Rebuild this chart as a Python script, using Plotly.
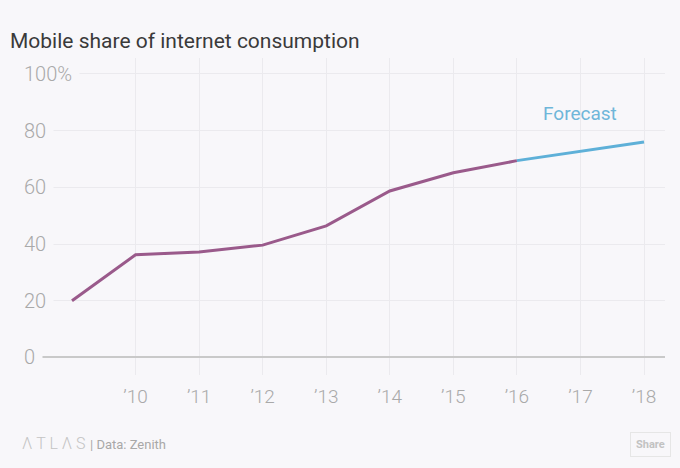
import plotly.graph_objects as go

# ---- data ----
years_actual = [2009, 2010, 2011, 2012, 2013, 2014, 2015, 2016]
share_actual = [20.0, 36.2, 37.2, 39.6, 46.4, 58.7, 65.1, 69.4]
years_forecast = [2016, 2017, 2018]
share_forecast = [69.4, 72.7, 76.0]
xtick_vals = [2010, 2011, 2012, 2013, 2014, 2015, 2016, 2017, 2018]
xtick_text = ["\u201910", "\u201911", "\u201912", "\u201913", "\u201914",
              "\u201915", "\u201916", "\u201917", "\u201918"]
ytick_vals = [0, 20, 40, 60, 80, 100]
ytick_text = ["0", "20", "40", "60", "80", "100%"]

BG = "#f8f7fa"
GRAY = "#a9a9a9"

W, H = 680, 468
L, R, T, B = 24, 15, 58, 93
pw, ph = W - L - R, H - T - B


def px_x(px):
    return (px - L) / pw


def px_y(py):
    return 1 - (py - T) / ph


fig = go.Figure()
fig.add_trace(go.Scatter(x=years_actual, y=share_actual, mode="lines",
                         line=dict(color="#9a5a8b", width=3), hoverinfo="skip"))
fig.add_trace(go.Scatter(x=years_forecast, y=share_forecast, mode="lines",
                         line=dict(color="#5eb0d8", width=3), hoverinfo="skip"))

for v, t in zip(ytick_vals, ytick_text):
    fig.add_annotation(x=0, xref="paper", y=v, yref="y", text=t, showarrow=False,
                       xanchor="left", yanchor="middle", xshift=-8,
                       bgcolor=BG, borderpad=7,
                       font=dict(family="Roboto", size=20, color=GRAY, weight=300))

fig.add_annotation(x=2017, y=86, xref="x", yref="y", text="Forecast", showarrow=False,
                   font=dict(family="Roboto", size=19, color="#6fb6d9"),
                   xanchor="center", yanchor="middle")

# footer
fig.add_annotation(x=px_x(20), y=px_y(443), xref="paper", yref="paper",
                   text="\u039b T L \u039b S", showarrow=False, xanchor="left",
                   yanchor="middle",
                   font=dict(family="Roboto", size=16, color="#c4c4c4", weight=300))
fig.add_annotation(x=px_x(88), y=px_y(444), xref="paper", yref="paper",
                   text="| Data: Zenith", showarrow=False, xanchor="left",
                   yanchor="middle",
                   font=dict(family="Roboto", size=13, color="#a8a8a8"))
fig.add_annotation(x=px_x(650), y=px_y(444), xref="paper", yref="paper",
                   text="<b>Share</b>", showarrow=False, xanchor="center",
                   yanchor="middle", bordercolor="#e6e6e6", borderwidth=1,
                   borderpad=5, bgcolor=BG,
                   font=dict(family="Roboto", size=11, color="#c2c2c2"))

fig.update_layout(
    width=W, height=H,
    margin=dict(l=L, r=R, t=T, b=B),
    paper_bgcolor=BG, plot_bgcolor=BG,
    showlegend=False,
    title=dict(text="Mobile share of internet consumption", x=10 / W, xanchor="left",
               y=1 - 41 / H, yanchor="middle",
               font=dict(family="Roboto", size=21, color="#3a3a3a")),
    xaxis=dict(range=[2008.245, 2018.33], tickvals=xtick_vals, ticktext=xtick_text,
               showgrid=True, gridcolor="#ebeaee", gridwidth=1, zeroline=False,
               showline=False, ticks="", ticklabelstandoff=8,
               tickfont=dict(family="Roboto", size=19, color=GRAY, weight=300),
               fixedrange=True),
    yaxis=dict(range=[-6.2, 105.6], tickvals=ytick_vals, showticklabels=False,
               showgrid=True, gridcolor="#ebeaee", gridwidth=1,
               zeroline=True, zerolinecolor="#c9c9c9", zerolinewidth=1.5,
               showline=False, ticks="", fixedrange=True),
)

fig.write_html("out.html", config={"displayModeBar": False},
               post_script="document.body.style.margin='0';document.body.style.background='%s';" % BG)
